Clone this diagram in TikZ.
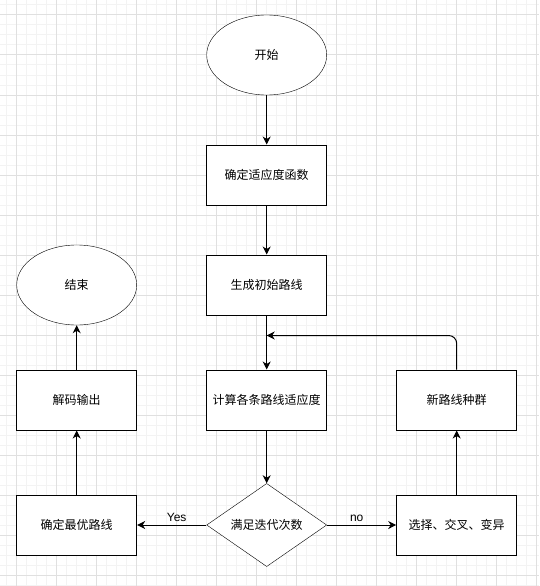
\documentclass[tikz,border=0pt]{standalone}
\usepackage{fontspec}
\setmainfont{Liberation Sans}
\newfontfamily\cjk{Noto Sans CJK SC}
\usepackage{tikz}
\usetikzlibrary{shapes.geometric, arrows, arrows.meta}
\usetikzlibrary{positioning, calc}
\definecolor{minorline}{HTML}{F3F3F3}
\definecolor{majorline}{HTML}{E0E0E0}
\tikzstyle{arrow} = [line width=1pt,-{Stealth[length=8pt,width=8pt,inset=2.5pt]}]
\tikzstyle{startstop} = [ellipse, minimum width=120pt, minimum height=80pt, inner sep=0pt, text centered, draw=black, fill=white, font=\cjk\fontsize{12}{14}\selectfont]
\tikzstyle{process} = [rectangle, minimum width=120pt, minimum height=60pt, inner sep=0pt, text centered, draw=black, line width=1pt, fill=white, font=\cjk\fontsize{12}{14}\selectfont]
\tikzstyle{decision} = [diamond, minimum width=120pt, minimum height=80pt, inner sep=0pt, text centered, draw=black, fill=white, font=\cjk\fontsize{12}{14}\selectfont]
\tikzstyle{edgelabel} = [font=\fontsize{12}{14}\selectfont, pos=0.43]

\begin{document}
\begin{tikzpicture}[x=1pt, y=-1pt, node distance=120pt]
            % background grid
            \useasboundingbox (0,0) rectangle (539,586);
            \fill [white] (0,0) rectangle (539,586);
            \foreach \x in {6,16,...,536} \draw [minorline, line width=1pt] (\x,0) -- (\x,586);
            \foreach \y in {5,15,...,585} \draw [minorline, line width=1pt] (0,\y) -- (539,\y);
            \foreach \x in {16,56,...,536} \draw [majorline, line width=1pt] (\x,0) -- (\x,586);
            \foreach \y in {15,55,...,575} \draw [majorline, line width=1pt] (0,\y) -- (539,\y);

            \node (start) [startstop] at (266.7,55) {开始};
            \node (fitfunc) [process, below of=start] {确定适应度函数};
            \node (initroute) [process, below of=fitfunc, yshift=10pt] {生成初始路线};
            \node (calcfit) [process, below of=initroute, yshift=5pt] {计算各条路线适应度};
            \node (check) [decision, below of=calcfit, yshift=-5pt] {满足迭代次数};
            \node (best) [process, left of=check, xshift=-70pt] {确定最优路线};
            \node (decode) [process, above of=best, yshift=5pt] {解码输出};
            \node (end) [startstop, above of=decode, yshift=-5pt] {结束};
            \node (ga) [process, right of=check, xshift=70pt] {选择、交叉、变异};
            \node (newpop) [process, above of=ga, yshift=5pt] {新路线种群};
            \coordinate (merge) at ([yshift=34pt]calcfit.north);

            \draw [arrow] (start) -- (fitfunc);
            \draw [arrow] (fitfunc) -- (initroute);
            \draw [arrow] (initroute) -- (calcfit);
            \draw [arrow] (calcfit) -- (check);
            \draw [arrow] (check) -- node [edgelabel, above] {Yes} (best);
            \draw [arrow] (best) -- (decode);
            \draw [arrow] (decode) -- (end);
            \draw [arrow] (check) -- node [edgelabel, above] {no} (ga);
            \draw [arrow] (ga) -- (newpop);
            \draw [arrow, rounded corners=8pt] (newpop.north) |- (merge);

        \end{tikzpicture}
\end{document}
